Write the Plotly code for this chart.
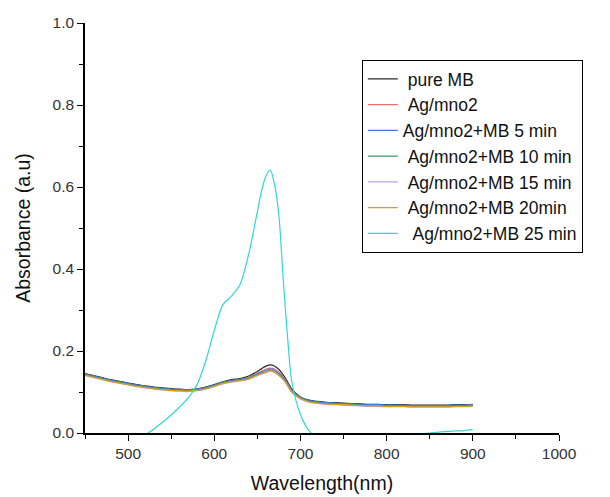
import plotly.graph_objects as go

wavelength = [450, 460, 470, 480, 490, 500, 510, 520, 530, 540, 550, 560, 570, 580, 590,
              600, 610, 620, 630, 640, 650, 655, 660, 665, 670, 675, 680, 685, 690, 700, 710, 720, 730, 740,
              750, 760, 770, 780, 790, 800, 810, 820, 830, 840, 850, 860, 870, 880, 890, 900]

pure_mb = [.145, .140, .135, .130, .126, .122, .118, .115, .112, .110, .108, .107, .106, .108, .112,
           .118, .125, .130, .133, .139, .150, .157, .163, .166, .163, .155, .142, .125, .107, .088, .080, .077, .075, .074,
           .073, .072, .071, .070, .070, .069, .069, .069, .068, .068, .068, .068, .068, .069, .069, .070]
ag_mno2 = [.143, .138, .133, .128, .124, .120, .116, .113, .110, .108, .106, .105, .104, .106, .110,
           .116, .123, .127, .130, .136, .146, .151, .156, .158, .156, .148, .137, .121, .104, .086, .078, .075, .073, .072,
           .071, .070, .069, .068, .068, .067, .067, .067, .066, .066, .066, .066, .066, .067, .067, .068]
mb_5 = [.144, .139, .134, .129, .125, .121, .117, .114, .111, .109, .107, .106, .105, .107, .111,
        .117, .124, .128, .131, .135, .144, .149, .153, .156, .153, .145, .135, .120, .104, .087, .079, .076, .074, .073,
        .072, .071, .070, .069, .069, .068, .068, .068, .067, .067, .067, .067, .067, .068, .068, .069]
mb_10 = [.142, .137, .132, .127, .123, .119, .115, .112, .109, .107, .105, .104, .103, .105, .109,
         .115, .122, .126, .129, .133, .142, .146, .150, .153, .150, .142, .132, .117, .101, .085, .077, .074, .072, .071,
         .070, .069, .068, .067, .067, .066, .066, .066, .065, .065, .065, .065, .065, .066, .066, .067]
mb_15 = [.140, .135, .130, .125, .121, .117, .113, .110, .107, .105, .103, .102, .101, .103, .107,
         .113, .120, .124, .127, .131, .140, .144, .147, .150, .147, .140, .130, .115, .099, .083, .075, .072, .070, .069,
         .068, .067, .066, .065, .065, .064, .064, .064, .063, .063, .063, .063, .063, .064, .064, .065]
mb_20 = [.141, .136, .131, .126, .122, .118, .114, .111, .108, .106, .104, .103, .102, .104, .108,
         .114, .121, .125, .128, .132, .141, .145, .149, .152, .149, .141, .131, .116, .100, .084, .076, .073, .071, .070,
         .069, .068, .067, .066, .066, .065, .065, .065, .064, .064, .064, .064, .064, .065, .065, .066]
mb_25 = [-.060, -.055, -.048, -.040, -.032, -.024, -.015, -.004, .010, .026, .044, .064, .086, .118, .175,
         .250, .313, .334, .363, .437, .540, .592, .627, .641, .605, .530, .375, .235, .125, .045, .005, -.012, -.018, -.021,
         -.022, -.022, -.021, -.019, -.016, -.013, -.010, -.007, -.004, -.002, .000, .002, .004, .005, .006, .008]

names = ["\u00a0pure MB", "\u00a0Ag/mno2", "Ag/mno2+MB 5 min", "\u00a0Ag/mno2+MB 10 min",
         "\u00a0Ag/mno2+MB 15 min", "\u00a0Ag/mno2+MB 20min", "\u00a0\u00a0Ag/mno2+MB 25 min"]
series = [pure_mb, ag_mno2, mb_5, mb_10, mb_15, mb_20, mb_25]
colors = ["#2a2a2a", "#f07070", "#3b7ddd", "#3a9a60", "#c39bea", "#d4a017", "#2dd8d8"]

fig = go.Figure()
for name, ys, c in zip(names, series, colors):
    fig.add_trace(go.Scatter(x=wavelength, y=ys, mode="lines", name=name,
                             line=dict(color=c, width=1.2, shape="spline", smoothing=0.8)))

font_family = "Liberation Sans, Arial, sans-serif"
fig.update_layout(
    width=610, height=497,
    margin=dict(l=85, r=51, t=23, b=64),
    paper_bgcolor="white", plot_bgcolor="white",
    font=dict(family=font_family, color="#333333"),
    showlegend=True,
    legend=dict(x=0.584, y=0.91, xanchor="left", yanchor="top",
                bgcolor="white", bordercolor="black", borderwidth=1,
                font=dict(size=17.5, color="#111111", family=font_family),
                tracegroupgap=0),
    xaxis=dict(range=[450, 1000], tickvals=[500, 600, 700, 800, 900, 1000],
               automargin=False,
               showline=True, linecolor="black", linewidth=1.5,
               ticks="outside", ticklen=6, tickcolor="black",
               minor=dict(tickvals=[450, 550, 650, 750, 850, 950], ticks="outside",
                          ticklen=4, tickcolor="black"),
               showgrid=False, zeroline=False,
               tickfont=dict(size=15.5, color="#333333"),
               title=dict(text="Wavelength(nm)", font=dict(size=19.5, color="#111111"), standoff=15)),
    yaxis=dict(range=[0, 1.0], tickvals=[0, 0.2, 0.4, 0.6, 0.8, 1.0], tickformat=".1f",
               automargin=False,
               showline=True, linecolor="black", linewidth=1.5,
               ticks="outside", ticklen=6, tickcolor="black",
               minor=dict(tickvals=[0.1, 0.3, 0.5, 0.7, 0.9], ticks="outside",
                          ticklen=4, tickcolor="black"),
               showgrid=False, zeroline=False,
               tickfont=dict(size=15.5, color="#333333"),
               title=dict(text="Absorbance (a.u)", font=dict(size=19.5, color="#111111"), standoff=17)),
)

fig.write_html("out.html")
